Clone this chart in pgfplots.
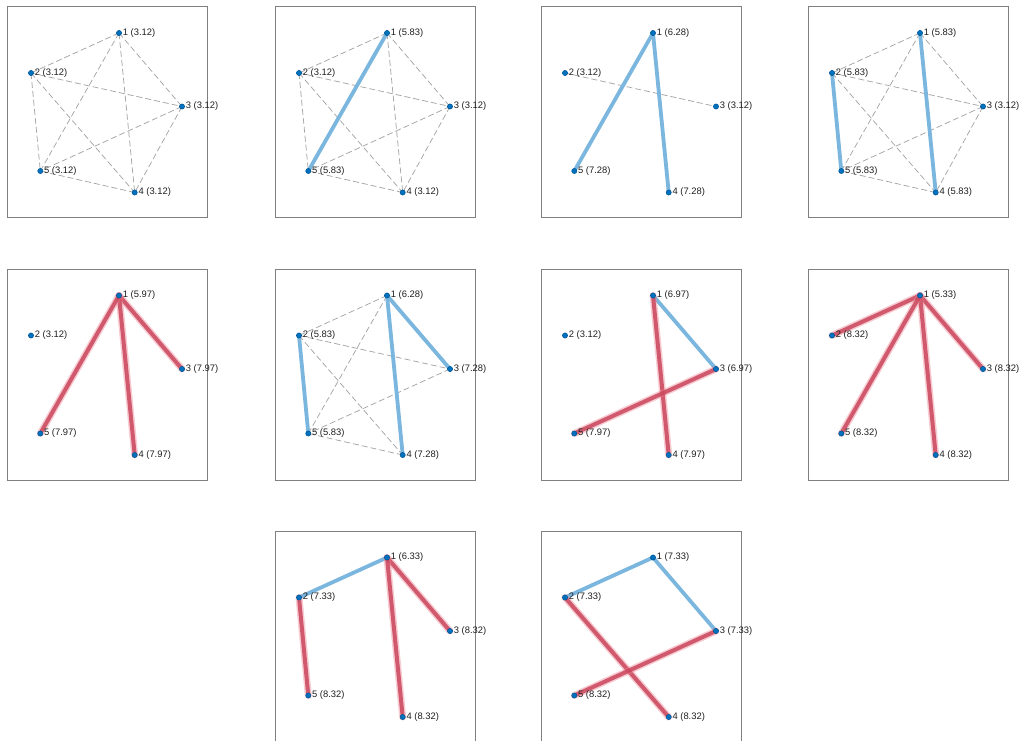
\documentclass[border=0pt]{standalone}
\usepackage{pgfplots}
\pgfplotsset{compat=1.18}
\usepackage{fontspec}
\setmainfont{Liberation Sans}
\definecolor{nodeblue}{RGB}{0,114,189}
\definecolor{nodeedge}{RGB}{0,84,150}
\definecolor{edgeblue}{RGB}{122,182,222}
\definecolor{redcore}{RGB}{202,70,92}
\definecolor{redglow}{RGB}{235,125,140}
\definecolor{dashgray}{RGB}{165,165,165}
\definecolor{framegray}{RGB}{128,128,128}
\pgfplotsset{
  panel/.style={
    anchor=north west, width=200pt, height=211pt, scale only axis,
    xmin=0, xmax=200, ymin=0, ymax=211, y dir=reverse,
    xtick=\empty, ytick=\empty, clip=false,
    axis line style={framegray, line width=0.9pt},
  },
  dashed edge/.style={dashgray, line width=0.75pt, dash pattern=on 6pt off 3pt, no markers},
  blue edge/.style={edgeblue, line width=3.8pt, line cap=round, no markers},
  red edge/.style={no markers, line cap=round, draw=redcore, line width=4pt, opacity=0.85,
    preaction={draw=redglow, line width=7pt, opacity=0.4, line cap=round}},
  graph nodes/.style={only marks, mark=*, mark size=2.6pt,
    mark options={fill=nodeblue, draw=nodeedge, line width=0.5pt},
    nodes near coords, point meta=explicit symbolic,
    every node near coord/.append style={anchor=west, xshift=2.6pt, inner sep=1pt,
      font=\fontsize{9.4}{11}\selectfont, text=black!88}},
}
\begin{document}
\begin{tikzpicture}
\useasboundingbox (0,0) rectangle (1024pt,740pt);
\clip (0,0) rectangle (1024pt,740pt);

% ---------- Panel 1 ----------
\begin{axis}[panel, at={(7pt,733.5pt)}]
\addplot[dashed edge] coordinates {(112,26.5) (24,66.5)};
\addplot[dashed edge] coordinates {(112,26.5) (175,100)};
\addplot[dashed edge] coordinates {(112,26.5) (127.7,186)};
\addplot[dashed edge] coordinates {(112,26.5) (33.3,164.5)};
\addplot[dashed edge] coordinates {(24,66.5) (175,100)};
\addplot[dashed edge] coordinates {(24,66.5) (127.7,186)};
\addplot[dashed edge] coordinates {(24,66.5) (33.3,164.5)};
\addplot[dashed edge] coordinates {(175,100) (127.7,186)};
\addplot[dashed edge] coordinates {(175,100) (33.3,164.5)};
\addplot[dashed edge] coordinates {(127.7,186) (33.3,164.5)};
\addplot[graph nodes] coordinates {(112,26.5) [1 (3.12)] (24,66.5) [2 (3.12)] (175,100) [3 (3.12)] (127.7,186) [4 (3.12)] (33.3,164.5) [5 (3.12)]};
\end{axis}

% ---------- Panel 2 ----------
\begin{axis}[panel, at={(275pt,733.5pt)}]
\addplot[dashed edge] coordinates {(112,26.5) (24,66.5)};
\addplot[dashed edge] coordinates {(112,26.5) (175,100)};
\addplot[dashed edge] coordinates {(112,26.5) (127.7,186)};
\addplot[dashed edge] coordinates {(24,66.5) (175,100)};
\addplot[dashed edge] coordinates {(24,66.5) (127.7,186)};
\addplot[dashed edge] coordinates {(24,66.5) (33.3,164.5)};
\addplot[dashed edge] coordinates {(175,100) (127.7,186)};
\addplot[dashed edge] coordinates {(175,100) (33.3,164.5)};
\addplot[dashed edge] coordinates {(127.7,186) (33.3,164.5)};
\addplot[blue edge] coordinates {(112,26.5) (33.3,164.5)};
\addplot[graph nodes] coordinates {(112,26.5) [1 (5.83)] (24,66.5) [2 (3.12)] (175,100) [3 (3.12)] (127.7,186) [4 (3.12)] (33.3,164.5) [5 (5.83)]};
\end{axis}

% ---------- Panel 3 ----------
\begin{axis}[panel, at={(541pt,733.5pt)}]
\addplot[dashed edge] coordinates {(24,66.5) (175,100)};
\addplot[blue edge] coordinates {(112,26.5) (33.3,164.5)};
\addplot[blue edge] coordinates {(112,26.5) (127.7,186)};
\addplot[graph nodes] coordinates {(112,26.5) [1 (6.28)] (24,66.5) [2 (3.12)] (175,100) [3 (3.12)] (127.7,186) [4 (7.28)] (33.3,164.5) [5 (7.28)]};
\end{axis}

% ---------- Panel 4 ----------
\begin{axis}[panel, at={(808pt,733.5pt)}]
\addplot[dashed edge] coordinates {(112,26.5) (24,66.5)};
\addplot[dashed edge] coordinates {(112,26.5) (175,100)};
\addplot[dashed edge] coordinates {(112,26.5) (33.3,164.5)};
\addplot[dashed edge] coordinates {(24,66.5) (175,100)};
\addplot[dashed edge] coordinates {(24,66.5) (127.7,186)};
\addplot[dashed edge] coordinates {(175,100) (127.7,186)};
\addplot[dashed edge] coordinates {(175,100) (33.3,164.5)};
\addplot[dashed edge] coordinates {(127.7,186) (33.3,164.5)};
\addplot[blue edge] coordinates {(112,26.5) (127.7,186)};
\addplot[blue edge] coordinates {(24,66.5) (33.3,164.5)};
\addplot[graph nodes] coordinates {(112,26.5) [1 (5.83)] (24,66.5) [2 (5.83)] (175,100) [3 (3.12)] (127.7,186) [4 (5.83)] (33.3,164.5) [5 (5.83)]};
\end{axis}

% ---------- Panel 5 ----------
\begin{axis}[panel, at={(7pt,471pt)}]
\addplot[red edge] coordinates {(112,26.5) (175,100)};
\addplot[red edge] coordinates {(112,26.5) (127.7,186)};
\addplot[red edge] coordinates {(112,26.5) (33.3,164.5)};
\addplot[graph nodes] coordinates {(112,26.5) [1 (5.97)] (24,66.5) [2 (3.12)] (175,100) [3 (7.97)] (127.7,186) [4 (7.97)] (33.3,164.5) [5 (7.97)]};
\end{axis}

% ---------- Panel 6 ----------
\begin{axis}[panel, at={(275pt,471pt)}]
\addplot[dashed edge] coordinates {(112,26.5) (24,66.5)};
\addplot[dashed edge] coordinates {(112,26.5) (33.3,164.5)};
\addplot[dashed edge] coordinates {(24,66.5) (175,100)};
\addplot[dashed edge] coordinates {(24,66.5) (127.7,186)};
\addplot[dashed edge] coordinates {(175,100) (33.3,164.5)};
\addplot[dashed edge] coordinates {(127.7,186) (33.3,164.5)};
\addplot[blue edge] coordinates {(112,26.5) (175,100)};
\addplot[blue edge] coordinates {(112,26.5) (127.7,186)};
\addplot[blue edge] coordinates {(24,66.5) (33.3,164.5)};
\addplot[graph nodes] coordinates {(112,26.5) [1 (6.28)] (24,66.5) [2 (5.83)] (175,100) [3 (7.28)] (127.7,186) [4 (7.28)] (33.3,164.5) [5 (5.83)]};
\end{axis}

% ---------- Panel 7 ----------
\begin{axis}[panel, at={(541pt,471pt)}]
\addplot[blue edge] coordinates {(112,26.5) (175,100)};
\addplot[red edge] coordinates {(112,26.5) (127.7,186)};
\addplot[red edge] coordinates {(175,100) (33.3,164.5)};
\addplot[graph nodes] coordinates {(112,26.5) [1 (6.97)] (24,66.5) [2 (3.12)] (175,100) [3 (6.97)] (127.7,186) [4 (7.97)] (33.3,164.5) [5 (7.97)]};
\end{axis}

% ---------- Panel 8 ----------
\begin{axis}[panel, at={(808pt,471pt)}]
\addplot[red edge] coordinates {(112,26.5) (24,66.5)};
\addplot[red edge] coordinates {(112,26.5) (175,100)};
\addplot[red edge] coordinates {(112,26.5) (127.7,186)};
\addplot[red edge] coordinates {(112,26.5) (33.3,164.5)};
\addplot[graph nodes] coordinates {(112,26.5) [1 (5.33)] (24,66.5) [2 (8.32)] (175,100) [3 (8.32)] (127.7,186) [4 (8.32)] (33.3,164.5) [5 (8.32)]};
\end{axis}

% ---------- Panel 9 ----------
\begin{axis}[panel, at={(275pt,209pt)}]
\addplot[blue edge] coordinates {(112,26.5) (24,66.5)};
\addplot[red edge] coordinates {(112,26.5) (175,100)};
\addplot[red edge] coordinates {(112,26.5) (127.7,186)};
\addplot[red edge] coordinates {(24,66.5) (33.3,164.5)};
\addplot[graph nodes] coordinates {(112,26.5) [1 (6.33)] (24,66.5) [2 (7.33)] (175,100) [3 (8.32)] (127.7,186) [4 (8.32)] (33.3,164.5) [5 (8.32)]};
\end{axis}

% ---------- Panel 10 ----------
\begin{axis}[panel, at={(541pt,209pt)}]
\addplot[blue edge] coordinates {(112,26.5) (24,66.5)};
\addplot[blue edge] coordinates {(112,26.5) (175,100)};
\addplot[red edge] coordinates {(24,66.5) (127.7,186)};
\addplot[red edge] coordinates {(175,100) (33.3,164.5)};
\addplot[graph nodes] coordinates {(112,26.5) [1 (7.33)] (24,66.5) [2 (7.33)] (175,100) [3 (7.33)] (127.7,186) [4 (8.32)] (33.3,164.5) [5 (8.32)]};
\end{axis}
\end{tikzpicture}
\end{document}
